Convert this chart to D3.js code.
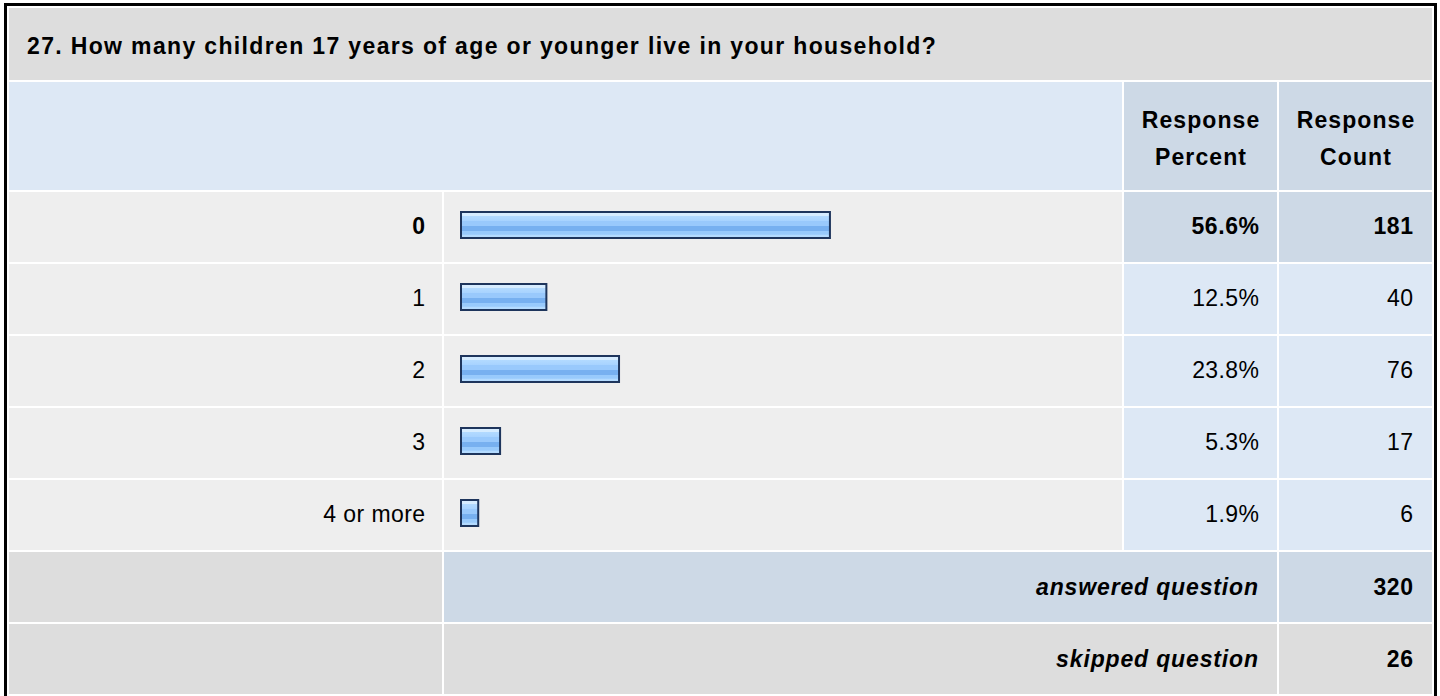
<!DOCTYPE html>
<html>
<head>
<meta charset="utf-8">
<script src="https://cdn.jsdelivr.net/npm/d3@7"></script>
<style>
  html, body { margin: 0; padding: 0; background: #ffffff; }
  svg { display: block; font-family: "Liberation Sans", Arial, Helvetica, sans-serif; }
</style>
</head>
<body>
<svg id="chart" width="1440" height="696"></svg>
<script>
// Survey question and answer data
const questionTitle = "27. How many children 17 years of age or younger live in your household?";
const categories = ["0", "1", "2", "3", "4 or more"];
const responsePercent = [56.6, 12.5, 23.8, 5.3, 1.9];
const responseCount = [181, 40, 76, 17, 6];
const headerPercent = ["Response", "Percent"];
const headerCount = ["Response", "Count"];
const summaryLabels = ["answered question", "skipped question"];
const summaryCounts = [320, 26];

const svg = d3.select("#chart");

// Table grid
const col = { c0: [9, 442], c1: [444, 1122], c2: [1124, 1277], c3: [1279, 1432] };
const titleRow = [8, 80];
const headRow = [82, 190];
const rowTop = 192, rowStep = 72, rowH = 70;

const colors = {
  title: "#dddddd",
  head: "#dde8f5",
  headCol: "#cdd9e6",
  rowBg: "#eeeeee",
  valBg: "#dde8f5",
  valMax: "#cdd9e6",
  text: "#000000",
  barStroke: "#1e355c"
};

// font size and letter spacing per text role
const font = {
  title:   { size: 23, ls: 1.35 },
  head:    { size: 23, ls: 1.1 },
  body:    { size: 23, ls: 0.4 },
  bold:    { size: 23, ls: 0.6 },
  summary: { size: 23, ls: 0.85 }
};

// Outer frame
svg.append("rect")
  .attr("x", 5.5).attr("y", 4.5)
  .attr("width", 1430).attr("height", 720)
  .attr("fill", "none").attr("stroke", "#000").attr("stroke-width", 3);

function cell(x0, x1, y0, y1, fill) {
  svg.append("rect").attr("x", x0).attr("y", y0)
    .attr("width", x1 - x0).attr("height", y1 - y0).attr("fill", fill);
}

// letter-spacing leaves a trailing gap after the last glyph; shift end/middle anchors to compensate
function text(x, y, str, anchor, f, weight, style) {
  const shift = anchor === "end" ? f.ls : anchor === "middle" ? f.ls / 2 : 0;
  return svg.append("text")
    .attr("x", x + shift).attr("y", y)
    .attr("text-anchor", anchor || "start")
    .attr("font-size", f.size)
    .attr("letter-spacing", f.ls)
    .attr("font-weight", weight || "normal")
    .attr("font-style", style || "normal")
    .attr("fill", colors.text)
    .text(str);
}

// Title row
cell(col.c0[0], col.c3[1], titleRow[0], titleRow[1], colors.title);
text(27, 54, questionTitle, "start", font.title, "bold");

// Header row
cell(col.c0[0], col.c1[1], headRow[0], headRow[1], colors.head);
cell(col.c2[0], col.c2[1], headRow[0], headRow[1], colors.headCol);
cell(col.c3[0], col.c3[1], headRow[0], headRow[1], colors.headCol);
[[col.c2, headerPercent], [col.c3, headerCount]].forEach(([c, lines]) => {
  const cx = (c[0] + c[1]) / 2;
  lines.forEach((l, i) => text(cx, 128 + i * 37, l, "middle", font.head, "bold"));
});

// Answer rows
const y = d3.scaleBand()
  .domain(categories)
  .range([rowTop, rowTop + rowStep * categories.length])
  .paddingInner(0);

const x = d3.scaleLinear().domain([0, 100]).range([0, 643]);
const maxIdx = d3.maxIndex(responsePercent);

const defs = svg.append("defs");
const grad = defs.append("linearGradient")
  .attr("id", "barFill").attr("x1", 0).attr("y1", 0).attr("x2", 0).attr("y2", 1);
[
  [0, "#d6ecff"], [0.14, "#d6ecff"], [0.15, "#b3daff"], [0.34, "#a8d3ff"],
  [0.36, "#99c9fc"], [0.52, "#99c9fc"], [0.54, "#77b0f0"], [0.72, "#77b0f0"],
  [0.74, "#98cafc"], [0.86, "#98cafc"], [0.88, "#b4dbff"], [1, "#b4dbff"]
].forEach(([o, c]) => grad.append("stop").attr("offset", o).attr("stop-color", c));

const rows = svg.append("g").selectAll("g")
  .data(categories.map((c, i) => ({ c, p: responsePercent[i], n: responseCount[i], i })))
  .join("g")
  .attr("transform", d => `translate(0,${y(d.c)})`);

rows.append("rect").attr("x", col.c0[0]).attr("width", col.c0[1] - col.c0[0])
  .attr("height", rowH).attr("fill", colors.rowBg);
rows.append("rect").attr("x", col.c1[0]).attr("width", col.c1[1] - col.c1[0])
  .attr("height", rowH).attr("fill", colors.rowBg);
rows.append("rect").attr("x", col.c2[0]).attr("width", col.c2[1] - col.c2[0])
  .attr("height", rowH).attr("fill", d => d.i === maxIdx ? colors.valMax : colors.valBg);
rows.append("rect").attr("x", col.c3[0]).attr("width", col.c3[1] - col.c3[0])
  .attr("height", rowH).attr("fill", d => d.i === maxIdx ? colors.valMax : colors.valBg);

// Bars
rows.append("rect")
  .attr("x", 461).attr("y", 20)
  .attr("width", d => x(d.p) + 5)
  .attr("height", 26)
  .attr("fill", "url(#barFill)")
  .attr("stroke", colors.barStroke).attr("stroke-width", 2);

const fontOf = d => d.i === maxIdx ? font.bold : font.body;
const rowText = (sel, xpos, fn) => sel.append("text")
  .attr("x", d => xpos + fontOf(d).ls).attr("y", 42)
  .attr("text-anchor", "end")
  .attr("font-size", d => fontOf(d).size)
  .attr("letter-spacing", d => fontOf(d).ls)
  .attr("font-weight", d => d.i === maxIdx ? "bold" : "normal")
  .attr("fill", colors.text)
  .text(fn);

rowText(rows, 425, d => d.c);
rowText(rows, 1259, d => d.p.toFixed(1) + "%");
rowText(rows, 1413, d => d.n);

// Summary rows
const sumTop = rowTop + rowStep * categories.length;
summaryLabels.forEach((lab, i) => {
  const y0 = sumTop + i * rowStep, y1 = y0 + rowH;
  const midFill = i === 0 ? colors.headCol : colors.title;
  cell(col.c0[0], col.c0[1], y0, y1, colors.title);
  cell(col.c1[0], col.c2[1], y0, y1, midFill);
  cell(col.c3[0], col.c3[1], y0, y1, midFill);
  text(1258, y0 + 43, lab, "end", font.summary, "bold", "italic");
  text(1413, y0 + 43, summaryCounts[i], "end", font.bold, "bold");
});
</script>
</body>
</html>
